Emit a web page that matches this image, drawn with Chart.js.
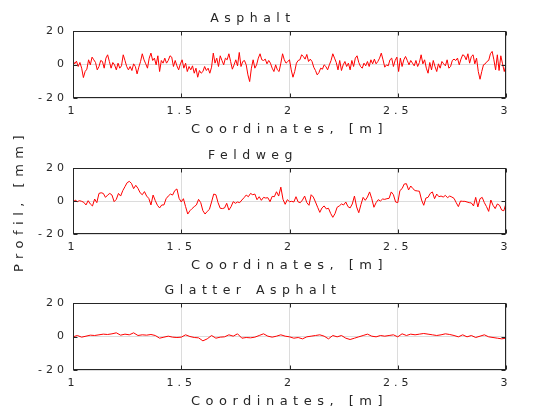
<!DOCTYPE html>
<html>
<head>
<meta charset="utf-8">
<title>Profile</title>
<script src="https://cdn.jsdelivr.net/npm/chart.js@4.4.1/dist/chart.umd.min.js"></script>
<style>
    html, body { margin: 0; padding: 0; background: #ffffff; }
    #wrap { position: relative; width: 560px; height: 420px; overflow: hidden; }
    #wrap canvas { position: absolute; left: 0; }
</style>
</head>
<body>
<div id="wrap">
    <canvas id="asphaltChart" width="560" height="138" style="top:0px"></canvas>
    <canvas id="glatterChart" width="560" height="138" style="top:272px"></canvas>
    <canvas id="feldwegChart" width="560" height="220" style="top:96px"></canvas>
</div>
<script>
// x axis: coordinates in m, profile values in mm
const xStart = 1;
const xTicks = [1, 1.5, 2, 2.5, 3];
const yTicks = [-20, 0, 20];

const asphaltStep = 0.008;
const asphaltProfile = [
    2.4, 0.4, 2.0, -1.2, 1.2, -2.2, -7.8, -4.2, -2.8, 2.8,
    -0.2, 4.4, 2.8, 1.2, -3.2, -1.2, 2.4, 1.8, -2.2, 3.8,
    5.8, 1.8, -2.2, 1.2, -0.2, -3.2, 0.8, -2.2, -0.8, 5.8,
    2.4, -1.2, -3.2, -1.2, -3.6, 0.4, -1.2, -5.6, -1.6, 1.8,
    6.4, 2.8, 0.4, -2.2, 3.8, 6.8, 2.4, 3.8, -0.2, 5.2,
    -4.2, 2.4, 0.8, 3.8, 0.8, 2.4, 5.2, 4.4, -1.2, 2.4,
    -0.8, -3.2, 0.4,
    2.8, -2.2, 0.8, -4.2, -1.2, -3.2, -0.8, -5.2, -2.2, -7.6,
    -3.6, -5.2, -4.2, -1.2, -3.6, -2.2, -5.2, -1.6, 6.8, 0.8,
    3.8, -1.2, 5.2, 2.4, -0.2, 3.8, 2.8, 6.4, 1.8, -2.8,
    -0.2, 2.8, -0.8, 7.2, -1.2, 1.8, 2.4, -0.2, -6.2, -10.2,
    -2.2, 2.8, -2.2, -0.2, 3.8, 6.4, 2.8, 2.4, 3.2, 0.4,
    2.4, 0.8, -2.2, -4.2, -0.2, -3.2, -4.2, 0.8, 6.4, 2.8,
    0.8, 1.8, 2.8,
    -3.2, -7.6, -4.2, 0.8, 2.4, 2.8, 5.8, 4.8, 3.2, 6.0,
    1.8, 3.2, 1.8, -1.6, -3.6, -6.2, -4.8, -2.2, -2.8, -0.2,
    -1.2, -3.2, -0.2, 2.4, 6.4, 3.8, 1.2, -3.2, 2.4, -3.6,
    -0.2, 1.8, -1.2, 0.8, -3.2, 2.4, -1.2, 3.8, 5.2, 1.2,
    -1.2, -2.2, 0.8, -0.8, 1.8, -1.2, 2.8, 0.4, 3.2, 0.4,
    1.8, 3.8, 6.8, 2.8, -1.6, -0.2, -0.8, 2.8, 3.8, -1.2,
    2.4, 4.4, -4.2, 3.8, -1.2, 2.8, 4.8, 2.4, -0.2, 2.4,
    0.8, -0.8, 2.4, -1.2, 1.2, 5.8, 0.4, 2.8, -2.2, -5.2,
    1.2, -3.2, 2.4, -1.2, -4.2, 0.4, -2.2, 1.8, 0.4, -0.8,
    2.8, -2.2, -1.2, 2.4, 3.2, 2.4, 3.8, -0.2, 3.2, 5.8,
    5.2, 2.8, 6.4, 0.8, 4.8, 5.8, 0.4, 3.8, -4.2, -8.8,
    -4.2, -0.2, 0.4, 1.8, 2.4, 6.4, 7.8, 2.8, -3.2, 5.8,
    -3.6, 5.2, 0.4, -4.2, -0.2
];

const feldwegStep = 0.01;
const feldwegProfile = [
    -1.4, 0.6, -0.4, 0.2, -0.2, -0.8, -2.4, 0.2, -1.8, -3.0,
    1.2, -1.0, 4.6, 5.0, 4.6, 2.2, 3.6, 4.6, 3.6, -0.4,
    1.0, 4.6, 3.0, 6.3, 8.7, 11.1, 11.9, 10.7, 7.5, 9.5,
    7.7, 5.0, 3.8, 5.7, 3.0, 1.6, -2.4, 3.6, 0.2, -2.6,
    -4.2, -2.4, -2.4, 1.4, 3.0, 4.2, 3.6, 6.3, 7.3, 1.6,
    -0.6, 1.4, -3.4, -7.9, -5.9, -4.6, -3.4, -2.4, 1.0, -1.0,
    -5.9, -7.9, -6.3, -5.1, -0.6, 4.2, 3.8, -1.0, -4.4, -4.6,
    -4.2, -1.4, -5.5, -3.5, -0.4, -1.4, -0.6, -1.0, 0.6, 2.0,
    3.6, 2.6, 4.6, 3.8, 4.2, 0.8, 2.6, 0.4, 2.2, 1.8,
    2.0, -0.4, 2.8, 2.6, 5.6, 3.0, 8.4, 1.0, -2.0, 0.8,
    -0.4, -0.2, -0.6, 2.6, -0.6, -1.0, 0.6, 3.0, -1.0, -2.6,
    3.8, 2.4, -0.6, -3.8, -6.9, -4.2, -3.0, -4.8, -4.4, -7.5,
    -9.9, -7.7, -3.8, -3.0, -1.8, -2.4, -0.6, -3.4, -4.2, -1.8,
    3.0, -3.6, -7.1, -2.2, 2.2, 0.4, 2.4, 5.5, 1.4, -3.8,
    -1.0, 0.8, 0.0, 1.2, 1.0, 1.4, 1.6, 5.5, 3.8, -0.6,
    -1.0, 6.3, 7.5, 10.3, 10.5, 6.7, 9.1, 7.5, 6.3, 6.1,
    5.9, 0.6, -2.6, 1.8, 2.2, 4.6, 5.5, 1.4, 4.2, 2.6,
    3.0, 2.4, 3.4, 2.0, 3.0, 2.4, 1.6, -1.0, -3.4, 0.0,
    -0.2, -0.2, -0.6, -1.0, -1.2, -3.0, 2.2, -3.6, 1.4, 2.2,
    -1.0, -3.4, -6.3, 0.6, -2.6, -4.6, -1.8, -2.6, -5.5, -5.9,
    -1.4
];

const glatterStep = 0.02;
const glatterProfile = [
    -0.2, 0.6, -0.4, 0.2, 0.8, 0.6, 1.0, 1.4, 1.2, 1.6,
    2.2, 0.8, 1.4, 1.0, 2.2, 0.6, 1.0, 0.8, 1.2, 0.6,
    -1.0, -0.4, 0.2, -0.4, -0.6, -0.4, 1.0, 0.0, -0.6, -0.8,
    -2.6, -1.4, 0.6, -1.0, -0.4, -0.2, 1.0, 0.2, 1.6, -1.0,
    -0.6, -0.8, -0.4, 0.6, 1.6, 0.2, -0.4, 0.2, 1.0, 0.2,
    -0.2,
    -1.0, -0.6, -1.4, -0.2, 0.2, 0.6, 1.0, 0.2, -1.4, 0.6,
    -0.2, 0.6, -1.0, -1.8, -1.0, -0.2, 0.6, 1.4, 0.2, -0.2,
    0.6, 0.2, 0.6, 1.0, -0.2, 1.6, 0.6, 1.4, 1.0, 1.4,
    1.8, 1.4, 1.0, 0.6, 1.0, 1.6, 1.2, 0.6, -0.2, 1.0,
    -0.2, 0.6, -0.6, 0.2, 1.0, -0.2, -0.6, -1.0, -1.4, -1.0
];

const fontFamily = "'DejaVu Sans', sans-serif";
const textColor = '#262626';
const gridColor = '#dcdcdc';
const lineColor = '#ff0000';
const textSpacing = '5.5px';
const tickSpacing = '4px';

// tick labels get a bit less letter spacing than titles
const baseDrawLabels = Chart.Scale.prototype.drawLabels;
Chart.Scale.prototype.drawLabels = function (area) {
    this.ctx.letterSpacing = tickSpacing;
    baseDrawLabels.call(this, area);
    this.ctx.letterSpacing = textSpacing;
};

// closed box round the plot with short inward ticks
const frameBox = {
    id: 'frameBox',
    beforeDraw(chart) {
        chart.ctx.letterSpacing = textSpacing;
    },
    afterDraw(chart) {
        const { ctx, chartArea, scales } = chart;
        const l = Math.round(chartArea.left) + 0.5;
        const r = Math.round(chartArea.right) - 0.5;
        const t = Math.round(chartArea.top) + 0.5;
        const b = Math.round(chartArea.bottom) - 0.5;
        ctx.save();
        ctx.strokeStyle = textColor;
        ctx.lineWidth = 1;
        ctx.strokeRect(l, t, r - l, b - t);
        ctx.beginPath();
        scales.x.ticks.forEach(tick => {
            const px = Math.round(scales.x.getPixelForValue(tick.value)) + 0.5;
            ctx.moveTo(px, t); ctx.lineTo(px, t + 4);
            ctx.moveTo(px, b); ctx.lineTo(px, b - 4);
        });
        scales.y.ticks.forEach(tick => {
            const py = Math.round(scales.y.getPixelForValue(tick.value)) + 0.5;
            ctx.moveTo(l, py); ctx.lineTo(l + 4, py);
            ctx.moveTo(r, py); ctx.lineTo(r - 4, py);
        });
        ctx.stroke();
        ctx.restore();
    }
};

function makePanel(canvasId, titleText, profile, step, yTitle, padTop, padBottom) {
    const ctx = document.getElementById(canvasId).getContext('2d');
    return new Chart(ctx, {
        type: 'line',
        data: {
            datasets: [{
                data: profile.map((v, i) => ({ x: xStart + i * step, y: v })),
                borderColor: lineColor,
                borderWidth: 1,
                pointRadius: 0,
                tension: 0,
                fill: false
            }]
        },
        options: {
            responsive: false,
            animation: false,
            events: [],
            layout: { padding: { left: 0, right: 54, top: padTop, bottom: padBottom } },
            plugins: {
                legend: { display: false },
                tooltip: { enabled: false },
                title: {
                    display: true,
                    text: titleText,
                    color: textColor,
                    font: { family: fontFamily, size: 12.5, weight: 'normal' },
                    padding: { top: 11, bottom: 5 }
                }
            },
            scales: {
                x: {
                    type: 'linear',
                    min: xTicks[0],
                    max: xTicks[xTicks.length - 1],
                    afterBuildTicks: s => { s.ticks = xTicks.map(v => ({ value: v })); },
                    afterFit: s => { s.height = 40; },
                    ticks: {
                        color: textColor,
                        padding: 7,
                        maxRotation: 0,
                        autoSkip: false,
                        callback: value => String(value),
                        font: { family: fontFamily, size: 11 }
                    },
                    grid: { color: gridColor, drawTicks: false },
                    border: { display: false },
                    title: {
                        display: true,
                        text: 'Coordinates, [m]',
                        color: textColor,
                        font: { family: fontFamily, size: 13 },
                        padding: { top: 0, bottom: 1 }
                    }
                },
                y: {
                    type: 'linear',
                    min: yTicks[0],
                    max: yTicks[yTicks.length - 1],
                    afterBuildTicks: s => { s.ticks = yTicks.map(v => ({ value: v })); },
                    afterFit: s => { s.width = 73; },
                    ticks: {
                        color: textColor,
                        padding: 5,
                        callback: value => String(value),
                        font: { family: fontFamily, size: 11 }
                    },
                    grid: { color: gridColor, drawTicks: false },
                    border: { display: false },
                    title: {
                        display: yTitle,
                        text: 'Profil, [mm]',
                        color: textColor,
                        font: { family: fontFamily, size: 13 },
                        padding: { top: 12, bottom: 0 }
                    }
                }
            }
        },
        plugins: [frameBox]
    });
}

makePanel('asphaltChart', 'Asphalt', asphaltProfile, asphaltStep, false, 0, 0);
makePanel('feldwegChart', 'Feldweg', feldwegProfile, feldwegStep, true, 41, 42);
makePanel('glatterChart', 'Glatter Asphalt', glatterProfile, glatterStep, false, 0, 0);
</script>
</body>
</html>
